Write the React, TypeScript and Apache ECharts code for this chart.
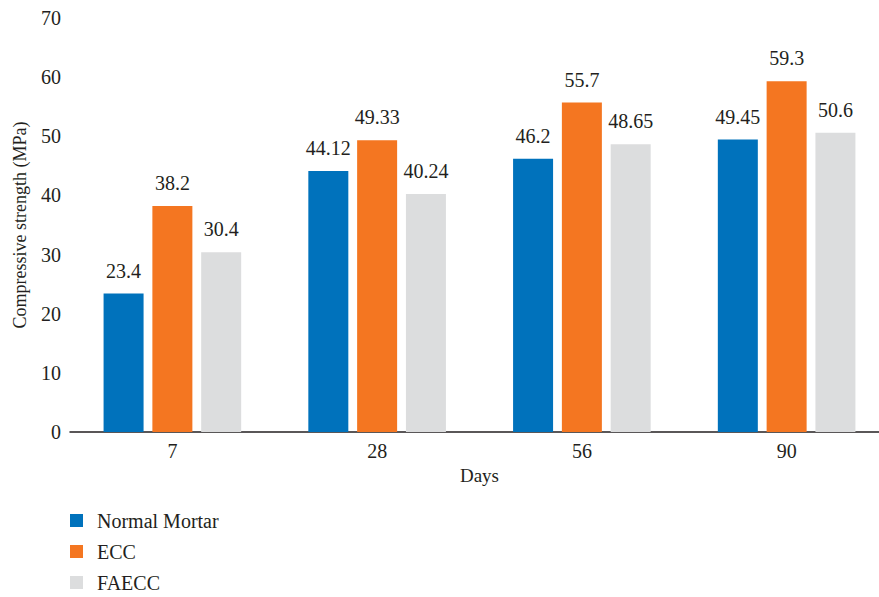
import React, { useEffect, useRef } from "react";
import * as echarts from "echarts";

const categories = ["7", "28", "56", "90"];
const normalMortar = [23.4, 44.12, 46.2, 49.45];
const ecc = [38.2, 49.33, 55.7, 59.3];
const faecc = [30.4, 40.24, 48.65, 50.6];
const seriesNames = ["Normal Mortar", "ECC", "FAECC"];
const colors = ["#0072BC", "#F47621", "#DCDDDE"];

const FONT = "Liberation Serif";
const TEXT = "#231F20";

export default function App() {
  const ref = useRef<HTMLDivElement>(null);
  useEffect(() => {
    if (!ref.current) return;
    const chart = echarts.init(ref.current, undefined, { renderer: "svg" });
    const data = [normalMortar, ecc, faecc];
    const legendItems = seriesNames.flatMap((name, i) => [
      {
        type: "rect",
        shape: { x: 70, y: 514 + i * 31, width: 13, height: 13 },
        style: { fill: colors[i] },
        silent: true,
      },
      {
        type: "text",
        x: 97,
        y: 521 + i * 31,
        style: {
          text: name,
          fontFamily: FONT,
          fontSize: 20,
          fill: TEXT,
          textAlign: "left",
          textVerticalAlign: "middle",
        },
        silent: true,
      },
    ]);
    chart.setOption({
      animation: false,
      textStyle: { fontFamily: FONT },
      grid: { left: 70, top: 18, width: 819, height: 414, containLabel: false, outerBoundsMode: "none" },
      legend: { show: false, data: seriesNames },
      graphic: legendItems,
      xAxis: {
        type: "category",
        data: categories,
        name: "Days",
        nameLocation: "middle",
        nameGap: 33,
        nameTextStyle: { fontFamily: FONT, fontSize: 19, color: TEXT },
        axisLine: { lineStyle: { color: TEXT, width: 1.5 } },
        axisTick: { show: false },
        axisLabel: { fontFamily: FONT, fontSize: 20, color: TEXT, margin: 9 },
      },
      yAxis: {
        type: "value",
        min: 0,
        max: 70,
        interval: 10,
        name: "Compressive strength (MPa)",
        nameLocation: "middle",
        nameGap: 41,
        nameTextStyle: { fontFamily: FONT, fontSize: 18, color: TEXT },
        axisLine: { show: false },
        axisTick: { show: false },
        splitLine: { show: false },
        axisLabel: { fontFamily: FONT, fontSize: 20, color: TEXT, margin: 9 },
      },
      series: seriesNames.map((name, i) => ({
        name,
        type: "bar",
        data: data[i],
        barWidth: 40,
        barGap: "22%",
        itemStyle: { color: colors[i] },
        label: {
          show: true,
          position: "top",
          distance: 13,
          fontFamily: FONT,
          fontSize: 20,
          color: TEXT,
        },
      })),
    });
    return () => chart.dispose();
  }, []);
  return <div ref={ref} style={{ width: 879, height: 597, position: "absolute", left: 0, top: 0 }} />;
}
